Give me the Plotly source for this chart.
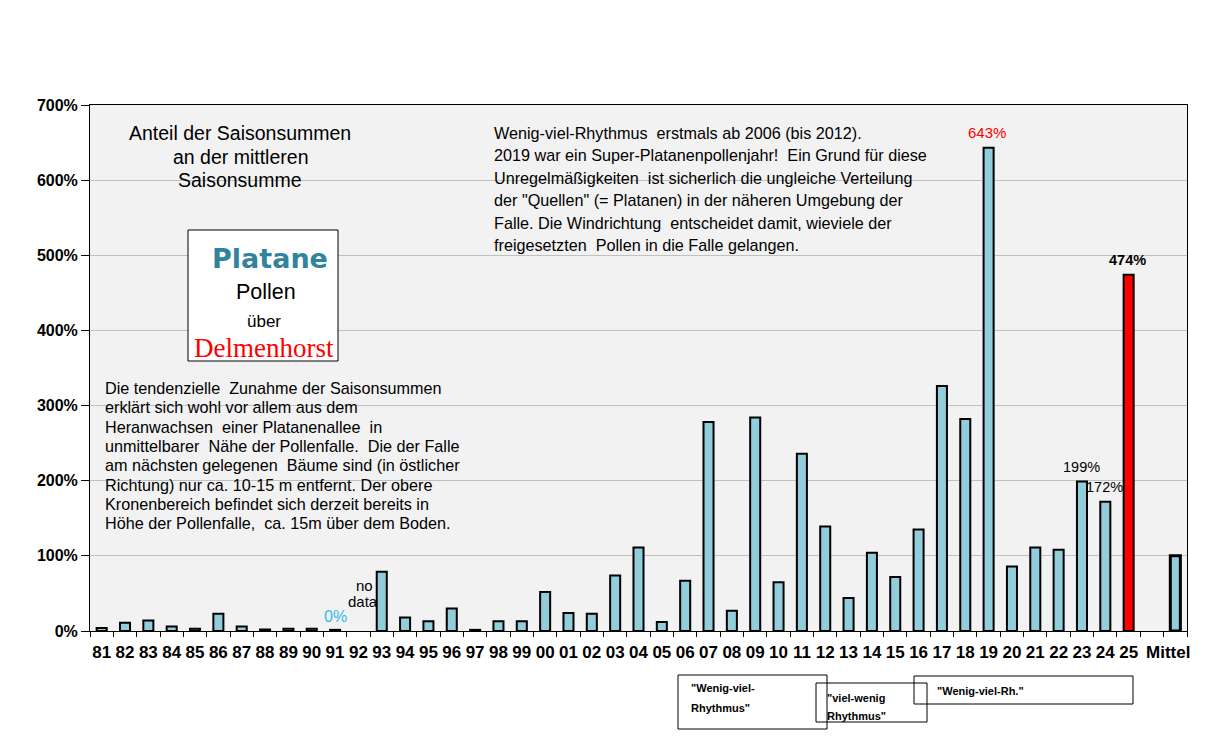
import plotly.graph_objects as go

# ---------------- data ----------------
categories = ["81", "82", "83", "84", "85", "86", "87", "88", "89", "90", "91", "92", "93", "94", "95",
              "96", "97", "98", "99", "00", "01", "02", "03", "04", "05", "06", "07", "08", "09", "10",
              "11", "12", "13", "14", "15", "16", "17", "18", "19", "20", "21", "22", "23", "24", "25",
              " ", "Mittel"]
values = [4, 11, 14, 6, 3, 23, 6, 2, 3, 3, 1.5, None, 79, 18, 13,
          30, 1.5, 13, 13, 52, 24, 23, 74, 111, 12, 67, 278, 27, 284, 65,
          236, 139, 44, 104, 72, 135, 326, 282, 643, 86, 111, 108, 199, 172, 474,
          None, 100]
y_ticks = [0, 100, 200, 300, 400, 500, 600, 700]
y_tick_labels = ["0%", "100%", "200%", "300%", "400%", "500%", "600%", "700%"]
x_tick_labels = [c if c != "Mittel" else "Mittel\u00a0\u00a0\u00a0" for c in categories]

BLUE = "#92CDDC"
RED = "#FF0000"
colors = [RED if c == "25" else BLUE for c in categories]
line_widths = [3 if c == "Mittel" else 2 for c in categories]

# page geometry (the page body has an 8px margin)
OFF = 8
L, R, T, B = 90, 1187, 105, 631
W, H = 1213 - OFF, 754 - OFF


def px(x):
    return (x - L) / (R - L)


def py(y):
    return (B - y) / (B - T)


fig = go.Figure()
fig.add_trace(go.Bar(
    x=categories, y=values, width=0.43,
    marker=dict(color=colors, line=dict(color="black", width=line_widths)),
    hoverinfo="x+y",
))

ann = []
FONT = "Liberation Sans, Arial, sans-serif"


def txt(x, y, s, size=14, color="black", xanchor="left", family=FONT, bold=False):
    ann.append(dict(x=px(x), y=py(y), xref="paper", yref="paper", text=(f"<b>{s}</b>" if bold else s),
                    showarrow=False, xanchor=xanchor, yanchor="middle",
                    font=dict(size=size, color=color, family=family)))


# title block
for s, y in [("Anteil der Saisonsummen", 133), ("an der mittleren", 157), ("Saisonsumme", 180)]:
    txt(240, y, s, size=19.5, xanchor="center")

# Platane box text
txt(270, 258, "<b>Platane</b>", size=27, color="#31849B", xanchor="center",
    family="Comic Sans MS, DejaVu Sans, sans-serif")
txt(266, 292, "Pollen", size=21.5, xanchor="center")
txt(264, 321, "über", size=17, xanchor="center")
txt(264, 348, "Delmenhorst", size=27, color="red", xanchor="center",
    family="Liberation Serif, Times New Roman, serif")

# top paragraph
top_lines = [
    "Wenig-viel-Rhythmus  erstmals ab 2006 (bis 2012).",
    "2019 war ein Super-Platanenpollenjahr!  Ein Grund für diese",
    "Unregelmäßigkeiten  ist sicherlich die ungleiche Verteilung",
    "der \"Quellen\" (= Platanen) in der näheren Umgebung der",
    "Falle. Die Windrichtung  entscheidet damit, wieviele der",
    "freigesetzten  Pollen in die Falle gelangen.",
]
for i, s in enumerate(top_lines):
    txt(492, 133 + i * 22.4, s, size=16.2)

# left paragraph
left_lines = [
    "Die tendenzielle  Zunahme der Saisonsummen",
    "erklärt sich wohl vor allem aus dem",
    "Heranwachsen  einer Platanenallee  in",
    "unmittelbarer  Nähe der Pollenfalle.  Die der Falle",
    "am nächsten gelegenen  Bäume sind (in östlicher",
    "Richtung) nur ca. 10-15 m entfernt. Der obere",
    "Kronenbereich befindet sich derzeit bereits in",
    "Höhe der Pollenfalle,  ca. 15m über dem Boden.",
]
for i, s in enumerate(left_lines):
    txt(103, 388 + i * 19.3, s, size=16.2)

# value labels
txt(364, 585, "no", size=15, xanchor="center")
txt(363, 601, "data", size=15, xanchor="center")
txt(335, 616, "0%", size=16, color="#33BBEE", xanchor="center")
txt(987, 132, "643%", size=15, color="red", xanchor="center")
txt(1127, 260, "474%", size=14.5, xanchor="center", bold=True)
txt(1081, 467, "199%", size=14.5, xanchor="center")
txt(1104, 487, "172%", size=14.5, xanchor="center")

# bottom boxes text
txt(689, 688, "\"Wenig-viel-", size=11, bold=True)
txt(689, 708, "Rhythmus\"", size=11, bold=True)
txt(825, 698, "\"viel-wenig", size=11, bold=True)
txt(825, 716, "Rhythmus\"", size=11, bold=True)
txt(935, 691, "\"Wenig-viel-Rh.\"", size=11, bold=True)

shapes = []


def box(x0, y0, x1, y1, fill="rgba(0,0,0,0)"):
    shapes.append(dict(type="rect", xref="paper", yref="paper",
                       x0=px(x0), x1=px(x1), y0=py(y1), y1=py(y0),
                       line=dict(color="black", width=1), fillcolor=fill, layer="above"))


box(188, 230, 338, 361, fill="white")
box(678, 675, 827, 729)
box(816, 683, 927, 722)
box(914, 676, 1133, 704)

fig.update_layout(
    width=W, height=H,
    margin=dict(l=L - OFF, r=W + OFF - R, t=T - OFF, b=H + OFF - B, autoexpand=False),
    paper_bgcolor="white", plot_bgcolor="#F2F2F2",
    showlegend=False,
    bargap=0.57,
    annotations=ann, shapes=shapes,
    font=dict(family=FONT, color="black"),
)
fig.update_xaxes(
    type="category", categoryorder="array", categoryarray=categories,
    tickmode="array", tickvals=categories, ticktext=x_tick_labels,
    tickson="boundaries", ticks="outside", ticklen=5, tickcolor="black",
    showline=True, linecolor="black", linewidth=1, mirror=True,
    tickangle=0, ticklabelstandoff=6,
    tickfont=dict(size=17, family=FONT, weight="bold", color="black"),
    showgrid=False,
)
fig.update_yaxes(
    range=[0, 700], tickvals=y_ticks, ticktext=y_tick_labels,
    ticks="outside", ticklen=8, tickcolor="black",
    showline=True, linecolor="black", linewidth=1, mirror=True,
    showgrid=True, gridcolor="#C0C0C0", gridwidth=1,
    tickfont=dict(size=16, family=FONT, weight="bold", color="black"),
    zeroline=False,
)

fig.write_html("out.html")
